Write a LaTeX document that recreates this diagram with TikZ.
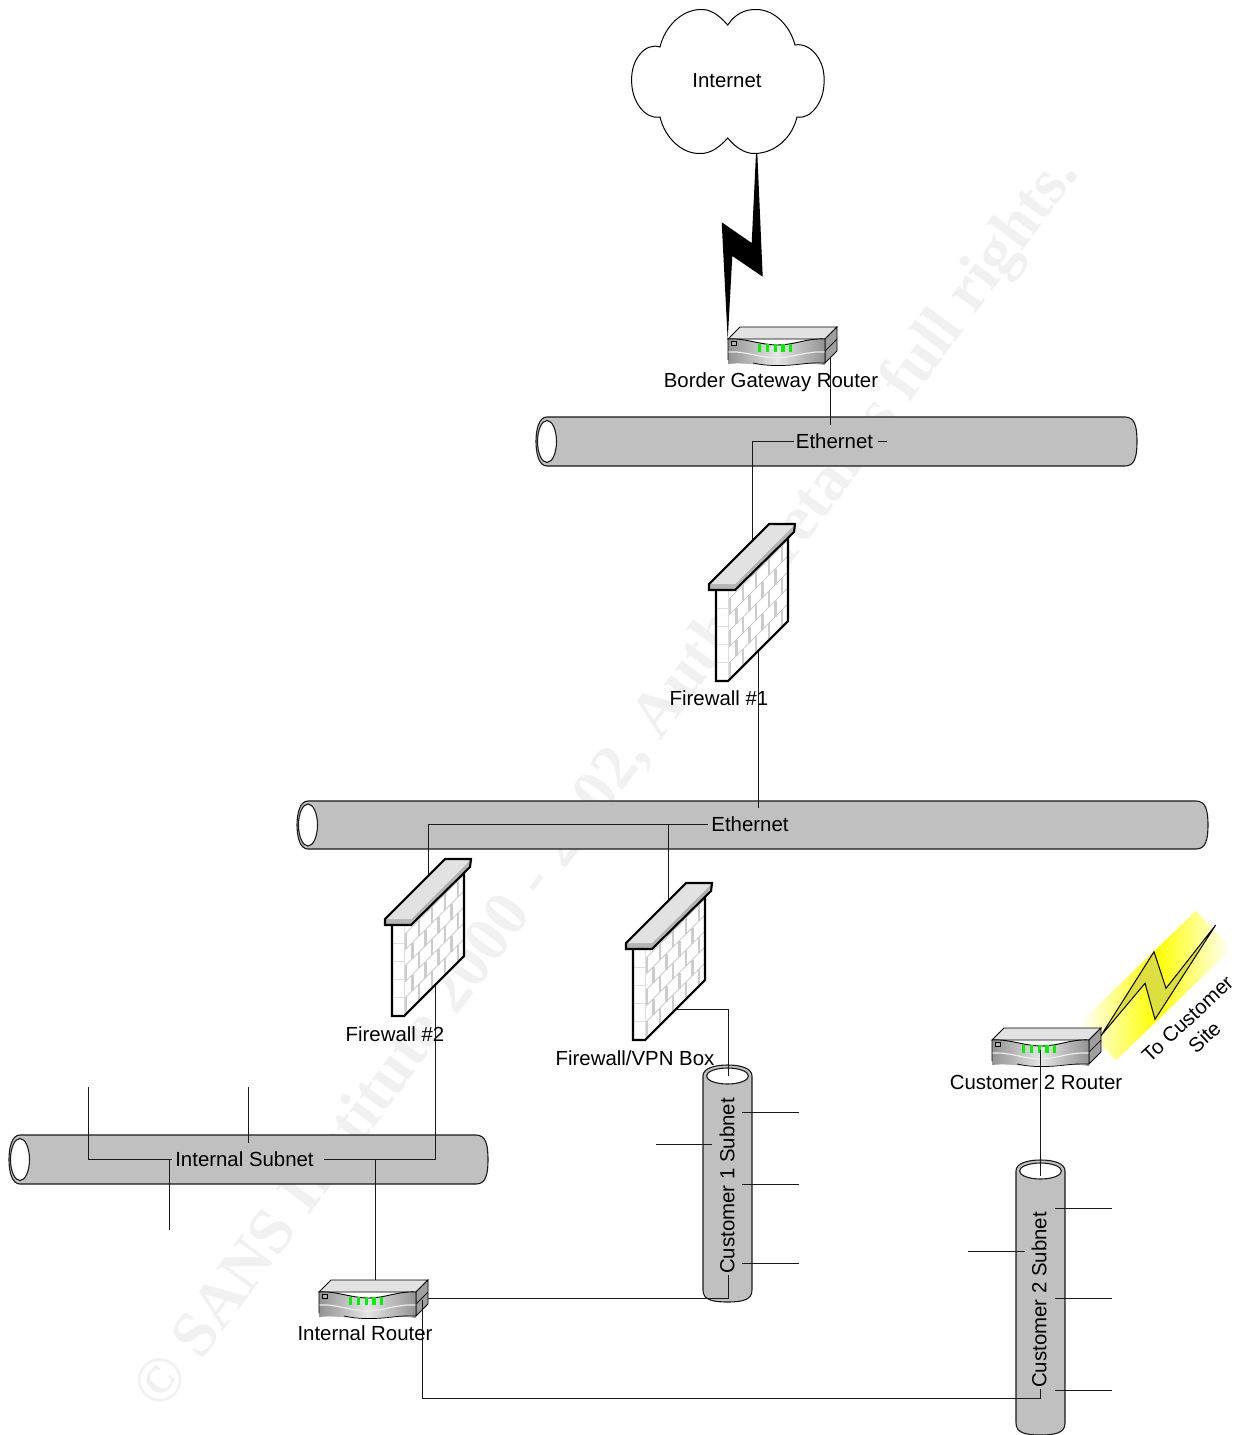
\documentclass[tikz,border=0pt]{standalone}
\usepackage{fontspec}
\setmainfont{Liberation Sans}
\newfontfamily\wmfont{Liberation Serif}
\usetikzlibrary{calc}
\definecolor{pipegray}{HTML}{C0C0C0}
\definecolor{capgray}{HTML}{E2E2E2}
\definecolor{capdark}{HTML}{B4B4B4}
\definecolor{brick}{HTML}{CCCCCC}
\definecolor{mark}{HTML}{F1F1F1}
\definecolor{ledgreen}{HTML}{00F000}
\definecolor{boltfill}{HTML}{DEDE40}
\tikzset{
  x=1pt,y=-1pt,
  wire/.style={line width=1pt,draw=black!90},
  lbl/.style={font=\fontsize{20.4}{24}\selectfont,inner sep=0pt,text=black},
  plbl/.style={lbl,fill=pipegray,inner xsep=2pt,inner ysep=1pt},
  pipebody/.style={fill=pipegray,draw=black!90,line width=1.1pt},
  pipehole/.style={fill=white,draw=black!90,line width=1.1pt},
  wallline/.style={draw=black,line width=2.1pt,line join=miter},
  stub/.style={wire}
}
\newcommand{\HPipe}[4]{% x1 x2 y1 y2
  \path[pipebody] ({#1+11},#3) -- ({#2-12},#3)
    .. controls ({#2-2},#3) and (#2,{#3+10}) .. (#2,{(#3+#4)/2})
    .. controls (#2,{#4-10}) and ({#2-2},#4) .. ({#2-12},#4)
    -- ({#1+11},#4)
    .. controls ({#1+3},#4) and (#1,{#4-12}) .. (#1,{(#3+#4)/2})
    .. controls (#1,{#3+12}) and ({#1+3},#3) .. ({#1+11},#3) -- cycle;
  \path[pipehole] ({#1+11},{(#3+#4)/2}) ellipse [x radius=9.5pt,y radius=21pt];
}
\newcommand{\VPipe}[4]{% x1 x2 y1 y2
  \path[pipebody] (#1,{#3+11}) -- (#1,{#4-12})
    .. controls (#1,{#4-2}) and ({#1+10},#4) .. ({(#1+#2)/2},#4)
    .. controls ({#2-10},#4) and (#2,{#4-2}) .. (#2,{#4-12})
    -- (#2,{#3+11})
    .. controls (#2,{#3+3}) and ({#2-12},#3) .. ({(#1+#2)/2},#3)
    .. controls ({#1+12},#3) and (#1,{#3+3}) .. (#1,{#3+11}) -- cycle;
  \path[pipehole] ({(#1+#2)/2},{#3+11}) ellipse [x radius=21pt,y radius=8pt];
}
\newcommand{\RouterShape}[2]{%
  \begin{scope}[shift={(#1,#2)}]
    \path[fill=capgray,draw=black,line width=0.9pt] (0,12)--(12,0)--(109,0)--(97,12)--cycle;
    \path[fill=gray!75,draw=black,line width=0.9pt] (97,12)--(109,0)--(109,24)--(97,36)--cycle;
    \draw[black,line width=0.7pt] (97,24)--(109,12);
    \path[left color=gray!85,right color=gray!85,middle color=gray!20]
      (0,12) .. controls (18,11) and (28,17) .. (48,18)
      .. controls (68,18) and (78,11) .. (97,12) -- (97,38)
      .. controls (78,35) and (68,39) .. (48,38)
      .. controls (28,39) and (18,35) .. (0,37) -- cycle;
    \draw[white!85!gray,line width=1.2pt] (0,25) .. controls (18,24) and (28,30) .. (48,31)
      .. controls (68,30) and (78,24) .. (97,25);
    \draw[black,line width=0.9pt] (0,33)--(0,12) .. controls (18,11) and (28,17) .. (48,18)
      .. controls (68,18) and (78,11) .. (97,12) -- (97,36);
    \draw[black,line width=0.7pt] (25,36) .. controls (35,38) and (40,38.5) .. (48,38.5)
      .. controls (68,39) and (78,35) .. (97,36);
    \path[fill=gray!60,draw=black,line width=0.5pt] (3.5,14) rectangle (8,18);
    \foreach \lx in {29.5,37.5,45.5,53,60.5}
      \fill[ledgreen] (\lx,17) rectangle ++(3.9,8);
  \end{scope}
}
\newcommand{\FirewallShape}[2]{%
  \begin{scope}[shift={(#1,#2)}]
    \path[fill=white] (7,66)--(7,157)--(19,157)--(79,97)--(79,8)--(26,62)--cycle;
    \begin{scope}
      \clip (19,66)--(19,157)--(79,97)--(79,8)--cycle;
      \foreach \k in {0,...,5} {
        \draw[brick,line width=1pt] (19,{76+\k*16}) -- (79,{16+\k*16});
        \foreach \j in {0,1,2,3,4} {
          \pgfmathsetmacro{\bx}{19+\j*13+mod(\k,2)*6.5+2}
          \pgfmathsetmacro{\by}{76+\k*16-(\bx-19)}
          \draw[brick,line width=2.2pt] (\bx,\by) -- (\bx,{\by+16});
        }
      }
    \end{scope}
    \foreach \k in {1,...,4}
      \draw[brick!60,line width=0.8pt] (7.5,{66+\k*18}) -- (19,{66+\k*18});
    \draw[brick!60,line width=0.8pt] (19,66) -- (19,157);
    \path[wallline] (7,66)--(7,157)--(19,157)--(79,97)--(79,14);
    \path[fill=capdark] (0,60)--(26,60)--(86,0)--(85,8)--(26,66)--(0,66)--cycle;
    \path[fill=capgray] (0,60)--(60,0)--(86,0)--(26,60)--cycle;
    \path[wallline] (0,60)--(60,0)--(86,0)--(85,8)--(26,66)--(0,66)--cycle;
  \end{scope}
}
\begin{document}
\begin{tikzpicture}
\useasboundingbox (0,0) rectangle (1238,1435);
% watermark
\node[rotate=53.5,text=mark,inner sep=0pt,font=\wmfont\bfseries\fontsize{64.3}{68}\selectfont] (wm) at (609,784)
  {© SANS Institute 2000 - 2002, Author retains full rights.};

% cloud
\coordinate (cn) at (727.7,25);
\path[fill=white,draw=black,line width=1pt] (cn)
  .. controls (718,14) and (710,9) .. (700,9.5)
  .. controls (682,10) and (665,26) .. (660,47)
  .. controls (645,42) and (631,60) .. (631.7,80)
  .. controls (631,102) and (646,120) .. (660,117)
  .. controls (665,138) and (682,154) .. (700,153.5)
  .. controls (710,154) and (720,147) .. (727.7,138)
  .. controls (735,147) and (745,154) .. (755,153.5)
  .. controls (775,153) and (792,138) .. (797,117)
  .. controls (810,120) and (825,102) .. (824,80)
  .. controls (825,60) and (810,42) .. (795,45)
  .. controls (790,26) and (775,10) .. (757,9.5)
  .. controls (745,9) and (735,14) .. (727.7,25) -- cycle;
\node[lbl] (internet) at (727,81) {Internet};

% pipes
\HPipe{536}{1137}{417}{466}
\HPipe{297}{1208}{801}{849}
\HPipe{9}{488}{1135}{1184}
\VPipe{703}{752}{1065}{1302}
\VPipe{1016}{1065}{1160}{1435}

% yellow band and bolt
\node[rotate=44,minimum width=161pt,minimum height=52pt,inner sep=0pt,
  left color=white,right color=white,middle color=yellow] (glow) at (1156,985.5) {};
\path[fill=boltfill,draw=black,line width=1pt,line join=miter] (1100.7,1036)--(1154,951.7)--(1166,988.3)--(1215.7,925)--(1155,1019.3)--(1145,983.3)--cycle;

% named connector ends
\coordinate (brOut) at (830,357);
\coordinate (eth1Drop) at (830,425);
\coordinate (eth1End) at (800,441);
\coordinate (dashA) at (878,441);
\coordinate (dashB) at (887,441);
\coordinate (fw1Top) at (752,545);
\coordinate (fw1Bot) at (758,650);
\coordinate (eth2Drop) at (758,808);
\coordinate (eth2End) at (708,824);
\coordinate (fw2Top) at (428,880);
\coordinate (vpnTop) at (668,905);
\coordinate (fw2Bot) at (435,985);
\coordinate (intEnd) at (324,1159);
\coordinate (intLeftTop) at (88,1087);
\coordinate (intMid) at (172,1159);
\coordinate (intUpA) at (248,1087);
\coordinate (intUpB) at (248,1143);
\coordinate (intDownA) at (169,1159);
\coordinate (intDownB) at (169,1230);
\coordinate (irTap) at (375,1159);
\coordinate (irTop) at (375,1280);
\coordinate (vpnOut) at (675,1009);
\coordinate (c1In) at (728,1076);
\coordinate (irRight) at (428,1298);
\coordinate (c1Low) at (728,1275);
\coordinate (irLow) at (422,1300);
\coordinate (c2Corner) at (1040,1398);
\coordinate (c2Low) at (1040,1389);
\coordinate (c2rOut) at (1040,1050);
\coordinate (c2In) at (1040,1176);
\coordinate (sa) at (742,1112); \coordinate (sA) at (799,1112);
\coordinate (sb) at (712,1144); \coordinate (sB) at (656,1144);
\coordinate (sc) at (742,1184); \coordinate (sC) at (799,1184);
\coordinate (sd) at (742,1263); \coordinate (sD) at (799,1263);
\coordinate (se) at (1055,1208); \coordinate (sE) at (1112,1208);
\coordinate (sf) at (1025,1251); \coordinate (sF) at (968,1251);
\coordinate (sg) at (1055,1298); \coordinate (sG) at (1112,1298);
\coordinate (sh) at (1055,1390); \coordinate (sH) at (1112,1390);

% routers (below their connectors)
\RouterShape{728}{327}
\RouterShape{319}{1280}
\RouterShape{992}{1028}

% black lightning
\path[fill=black] (756,153)--(751.7,243)--(721.7,222.3)--(727.7,340)--(732.3,256)--(762.7,276.7)--(757.3,153)--cycle;

% connectors
\draw[wire] (brOut) -- (eth1Drop);
\draw[wire] (fw1Top) |- (eth1End);
\draw[wire] (dashA) -- (dashB);
\draw[wire] (fw1Bot) -- (eth2Drop);
\draw[wire] (fw2Top) |- (eth2End);
\draw[wire] (vpnTop) -- (vpnTop |- eth2End);
\draw[wire] (fw2Bot) |- (intEnd);
\draw[wire] (intLeftTop) |- (intMid);
\draw[wire] (intUpA) -- (intUpB);
\draw[wire] (intDownA) -- (intDownB);
\draw[wire] (irTap) -- (irTop);
\draw[wire] (vpnOut) -| (c1In);
\draw[wire] (irRight) -| (c1Low);
\draw[wire] (irLow) |- (c2Corner) -- (c2Low);
\draw[wire] (c2rOut) -- (c2In);
\draw[stub] (sa)--(sA); \draw[stub] (sb)--(sB); \draw[stub] (sc)--(sC); \draw[stub] (sd)--(sD);
\draw[stub] (se)--(sE); \draw[stub] (sf)--(sF); \draw[stub] (sg)--(sG); \draw[stub] (sh)--(sH);

% firewalls
\FirewallShape{709}{524}
\FirewallShape{385}{859}
\FirewallShape{626}{883}

% labels
\node[plbl] (eth1) at (834.5,441) {Ethernet};
\node[plbl] (eth2) at (750,824) {Ethernet};
\node[plbl,inner xsep=1pt] (intnet) at (244.5,1159) {Internal Subnet};
\node[plbl,rotate=90,inner xsep=0pt,inner ysep=0pt] (c1net) at (727,1186) {Customer 1 Subnet};
\node[plbl,rotate=90,inner xsep=0pt,inner ysep=0pt] (c2net) at (1039,1300) {Customer 2 Subnet};
\node[lbl] (brLabel) at (771,382) {Border Gateway Router};
\node[lbl] (fw1Label) at (719,698) {Firewall \#1};
\node[lbl] (fw2Label) at (395,1034) {Firewall \#2};
\node[lbl] (vpnLabel) at (635,1058) {Firewall/VPN Box};
\node[lbl] (c2rLabel) at (1036,1082) {Customer 2 Router};
\node[lbl] (irLabel) at (365,1333) {Internal Router};
\node[lbl,rotate=43,align=center,font=\fontsize{20.4}{25}\selectfont] (toSite) at (1196,1028) {To Customer\\Site};
\end{tikzpicture}
\end{document}
